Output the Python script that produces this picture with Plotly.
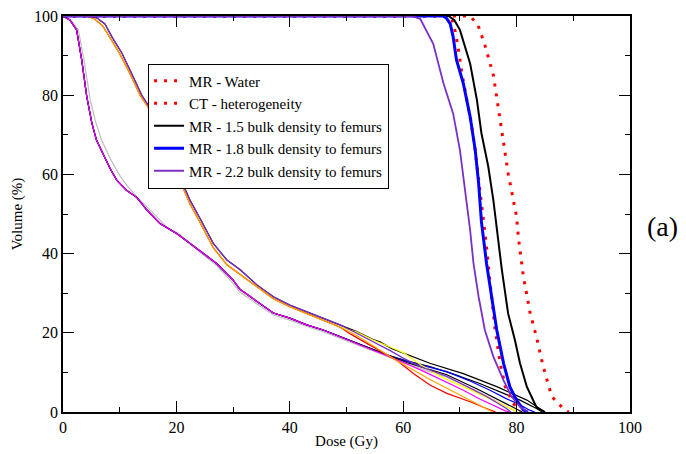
import plotly.graph_objects as go

# ---------------- PTV curves (legend entries) ----------------
WATER_DOSE = [0, 67.8, 68.6, 69.2, 69.8, 70.3, 71.2, 72.0, 72.7, 73.4, 74.1, 74.6, 75.3, 76.2, 77.1, 78.0, 79.4, 80.5]
WATER_VOL = [100, 100, 99, 96, 91, 86, 79, 73, 66, 58, 49, 43, 33, 21, 12.3, 6.4, 2.2, 0]

CT_DOSE = [0, 71.8, 73.2, 74.4, 75.9, 76.8, 77.7, 78.5, 80.0, 80.3, 81.2, 82.4, 83.5, 84.7, 86.2, 88.5, 89.2]
CT_VOL = [100, 100, 97.7, 92.7, 85.1, 76.3, 67, 60.3, 49.3, 44.3, 34.2, 24.9, 19, 11.4, 3.9, 0.5, 0]

MR15_DOSE = [0, 68.0, 69.0, 70.0, 71.8, 73.0, 73.8, 75.0, 75.9, 76.5, 77.4, 78.5, 79.7, 80.6, 81.8, 83.5, 85.0]
MR15_VOL = [100, 100, 99, 96.5, 88, 78.8, 70.4, 62, 53.5, 46, 35.9, 24.9, 18.2, 12.3, 6.4, 1.2, 0]

MR18_DOSE = [0, 67.0, 67.6, 68.3, 68.8, 69.4, 70.6, 71.8, 72.7, 73.3, 73.8, 74.7, 75.6, 76.5, 77.7, 78.8, 80.0, 81.2, 82.0]
MR18_VOL = [100, 100, 99.5, 98, 94.8, 88.9, 83, 74.6, 66.2, 57.8, 48, 37.5, 29.1, 20.7, 12.3, 6.4, 3, 0.5, 0]

MR22_DOSE = [0, 61.5, 63.0, 65.3, 67.1, 68.8, 70.0, 71.2, 71.8, 72.4, 73.3, 74.4, 75.9, 77.7, 79.1, 80.6, 82.0]
MR22_VOL = [100, 100, 99.3, 93, 83, 75.4, 66.2, 53.5, 46, 37.5, 29.1, 20.7, 14, 8, 3.9, 1.3, 0]

# ---------------- Organ B (steep low-dose fall) ----------------
B_HEAD_DOSE = [0, 1.2, 2.4, 3.3, 4.2, 5.1, 5.9, 7.0, 8.3, 9.5, 11.2, 13.0, 14.8, 17.1, 20.1, 23.6, 27.1, 30.0,
               31.2, 34.2, 37.1, 40.0, 43.0, 45.9, 48.9, 51.8, 54.7]
B_HEAD_VOL = [100, 99, 96.5, 88.9, 79.6, 72.9, 68.7, 65.5, 61.5, 58.5, 56, 54.2, 51, 47.6, 45, 41.3, 37.5, 33.3,
              31, 27.9, 25, 23.7, 22, 20.7, 19, 17.3, 15.7]
B_GRAY_HEAD_DOSE = [0, 1.4, 2.7, 3.7, 4.8, 5.8, 6.8, 8.5, 10.1, 11.5, 13.0, 14.5, 16.0, 18.3, 20.5, 23.6, 27.1, 30.0,
                    31.2, 34.2, 37.1, 40.0, 43.0, 45.9, 48.9, 51.8, 54.7]
B_GRAY_HEAD_VOL = [100, 99, 96.5, 88.9, 78.8, 73, 68.7, 63.5, 59.5, 56.8, 54.4, 52.3, 50.1, 46.7, 45, 41, 37, 32.5,
                   30.3, 27.3, 24.5, 23.2, 21.6, 20.3, 18.7, 17, 15.4]

B_BLACK_TAIL_DOSE = [57.7, 60.6, 64.7, 69.0, 73.5, 77.0, 80.6, 83.5, 84.5]
B_BLACK_TAIL_VOL = [14.2, 12.9, 11.5, 9.5, 7.2, 5.2, 3, 0.9, 0]
B_BLUE_TAIL_DOSE = [57.7, 60.6, 64.0, 67.7, 71.5, 75.3, 78.0, 80.6, 82.4, 83.2]
B_BLUE_TAIL_VOL = [14.1, 12.8, 11.5, 10.2, 8.0, 5.5, 3.5, 1.8, 0.4, 0]
B_BLACK2_TAIL_DOSE = [57.7, 60.6, 64.0, 67.7, 73.5, 76.5, 79.4, 81.0]
B_BLACK2_TAIL_VOL = [14.0, 12.5, 11.0, 9.4, 5.5, 3.3, 1.3, 0]
B_MAGENTA_TAIL_DOSE = [57.7, 60.6, 64.0, 67.0, 70.6, 73.5, 76.5, 78.0, 78.8]
B_MAGENTA_TAIL_VOL = [13.9, 12.2, 10.0, 8.0, 5.5, 3.3, 1.3, 0.3, 0]
B_GRAY_TAIL_DOSE = [57.7, 60.6, 64.0, 67.7, 73.5, 77.5, 80.0]
B_GRAY_TAIL_VOL = [13.7, 12.1, 10.5, 8.8, 5.0, 1.8, 0]

# ---------------- Organ C (shoulder then fall) ----------------
C_HEAD_DOSE = [0, 4.5, 6.0, 7.4, 8.6, 10.4, 12.1, 13.9, 15.0, 17.5, 20.3, 22.4, 24.2, 26.5, 28.9, 31.2, 34.2,
               37.1, 40.0, 43.0, 45.9, 48.9]
C_HEAD_VOL = [100, 100, 99.5, 98, 94.8, 90.6, 85.5, 80, 77.5, 69, 60.3, 53.5, 48.8, 42.6, 38.4, 36, 32.1,
              29.1, 27, 25.3, 23.7, 22]
C_ORANGE_HEAD_DOSE = [0, 4.0, 5.5, 7.0, 8.3, 10.0, 11.8, 13.6, 15.0, 17.5, 20.3, 22.4, 24.2, 26.5, 28.9, 31.2,
                      34.2, 37.1, 40.0, 43.0, 45.9, 48.9]
C_ORANGE_HEAD_VOL = [100, 100, 99.3, 97.5, 94.5, 90.5, 85.5, 80, 77, 68.5, 59.5, 52.5, 47.8, 41.5, 37.2, 34.8,
                     31.5, 28.6, 26.6, 24.9, 23.2, 21.4]

C_BLACK_TAIL_DOSE = [51.8, 54.7, 55.9, 58.0, 61.2, 64.7, 70.6, 76.5, 81.8, 84.1, 85.0]
C_BLACK_TAIL_VOL = [20.3, 18.3, 17.7, 16.0, 14.2, 12.3, 9.7, 6.4, 3.0, 0.9, 0]
C_YELLOW_TAIL_DOSE = [51.8, 54.7, 57.7, 60.0, 63.0, 66.5, 70.6, 76.5, 79.4, 80.2]
C_YELLOW_TAIL_VOL = [20.2, 18.2, 16.4, 15.0, 12.0, 9.0, 6.4, 2.6, 0.6, 0]
C_PURPLE_TAIL_DOSE = [51.8, 54.7, 57.7, 60.0, 63.0, 67.7, 71.0, 74.7, 78.2, 79.0]
C_PURPLE_TAIL_VOL = [19.9, 17.8, 15.5, 13.6, 11.5, 9.0, 6.5, 3.9, 0.9, 0]
C_ORANGE_TAIL_DOSE = [51.8, 55.9, 58.8, 61.8, 64.7, 67.7, 70.6, 73.5, 75.8]
C_ORANGE_TAIL_VOL = [19.3, 15.5, 13.0, 10.6, 8.2, 6.0, 3.8, 1.8, 0]
C_RED_TAIL_DOSE = [50.8, 53.0, 55.0, 58.8, 61.8, 64.7, 67.7, 71.8, 74.7, 76.3]
C_RED_TAIL_VOL = [19.6, 17.8, 16.0, 13.1, 9.7, 6.8, 4.7, 2.6, 0.9, 0]

LEGEND_NAMES = ["MR - Water", "CT - heterogeneity", "MR - 1.5 bulk density to femurs",
                "MR - 1.8 bulk density to femurs", "MR - 2.2 bulk density to femurs"]

X_TICKS = [0, 20, 40, 60, 80, 100]
Y_TICKS = [0, 20, 40, 60, 80, 100]

FONT = "Liberation Serif, Times New Roman, DejaVu Serif, serif"
PURPLE = "#7b2fc9"

fig = go.Figure()


def organ(x, y, color, width=1.2):
    fig.add_trace(go.Scatter(x=x, y=y, mode="lines", showlegend=False, hoverinfo="skip",
                             line=dict(color=color, width=width)))


# Organ B
organ(B_GRAY_HEAD_DOSE + B_GRAY_TAIL_DOSE, B_GRAY_HEAD_VOL + B_GRAY_TAIL_VOL, "#bebebe")
organ(B_HEAD_DOSE + B_BLACK_TAIL_DOSE, B_HEAD_VOL + B_BLACK_TAIL_VOL, "#000000")
organ(B_HEAD_DOSE + B_BLUE_TAIL_DOSE, B_HEAD_VOL + B_BLUE_TAIL_VOL, "#0000ff")
organ(B_HEAD_DOSE + B_BLACK2_TAIL_DOSE, B_HEAD_VOL + B_BLACK2_TAIL_VOL, "#000000")
organ(B_HEAD_DOSE + B_MAGENTA_TAIL_DOSE, B_HEAD_VOL + B_MAGENTA_TAIL_VOL, "#ff00ff")

# Organ C
organ(C_HEAD_DOSE + C_BLACK_TAIL_DOSE, C_HEAD_VOL + C_BLACK_TAIL_VOL, "#000000")
organ(C_ORANGE_HEAD_DOSE + C_YELLOW_TAIL_DOSE, C_ORANGE_HEAD_VOL + C_YELLOW_TAIL_VOL, "#ffff00")
organ(C_ORANGE_HEAD_DOSE + C_RED_TAIL_DOSE, C_ORANGE_HEAD_VOL + C_RED_TAIL_VOL, "#ff0000")
organ(C_ORANGE_HEAD_DOSE + C_ORANGE_TAIL_DOSE, C_ORANGE_HEAD_VOL + C_ORANGE_TAIL_VOL, "#ffa500")
organ(C_HEAD_DOSE + C_PURPLE_TAIL_DOSE, C_HEAD_VOL + C_PURPLE_TAIL_VOL, PURPLE)

# PTV curves with legend
DOT = "3px,7px"
fig.add_trace(go.Scatter(x=WATER_DOSE, y=WATER_VOL, mode="lines", name=LEGEND_NAMES[0],
                         line=dict(color="#ff0000", width=3, dash=DOT)))
fig.add_trace(go.Scatter(x=CT_DOSE, y=CT_VOL, mode="lines", name=LEGEND_NAMES[1],
                         line=dict(color="#ff0000", width=3, dash=DOT)))
fig.add_trace(go.Scatter(x=MR15_DOSE, y=MR15_VOL, mode="lines", name=LEGEND_NAMES[2],
                         line=dict(color="#000000", width=2)))
fig.add_trace(go.Scatter(x=MR18_DOSE, y=MR18_VOL, mode="lines", name=LEGEND_NAMES[3],
                         line=dict(color="#0000ff", width=3)))
fig.add_trace(go.Scatter(x=MR22_DOSE, y=MR22_VOL, mode="lines", name=LEGEND_NAMES[4],
                         line=dict(color=PURPLE, width=1.8)))

axis_common = dict(
    range=[0, 100], showgrid=False, zeroline=False, automargin=False,
    showline=True, linecolor="black", linewidth=1.5, mirror="ticks",
    ticks="inside", ticklen=11, tickwidth=1.2, tickcolor="black",
    tickfont=dict(family=FONT, size=16, color="black"),
    minor=dict(ticks="inside", ticklen=5, tickwidth=1.2, tickcolor="black", dtick=10),
)

fig.update_xaxes(**axis_common, tickvals=X_TICKS, ticktext=[str(v) for v in X_TICKS],
                 title=dict(text="Dose (Gy)", font=dict(family=FONT, size=15, color="black"), standoff=1))
fig.update_yaxes(**axis_common, tickvals=Y_TICKS, ticktext=[str(v) for v in Y_TICKS],
                 title=dict(text="Volume (%)", font=dict(family=FONT, size=15, color="black"), standoff=8))

fig.add_annotation(text="(a)", xref="paper", yref="paper", x=1.027, y=0.468, xanchor="left", yanchor="middle",
                   showarrow=False, font=dict(family=FONT, size=28, color="black"))

fig.update_layout(
    width=686, height=454,
    margin=dict(l=63, r=56, t=16, b=42, autoexpand=False),
    paper_bgcolor="white", plot_bgcolor="white",
    font=dict(family=FONT, color="black"),
    legend=dict(x=0.15, y=0.88, xanchor="left", yanchor="top",
                bgcolor="white", bordercolor="black", borderwidth=1,
                font=dict(family=FONT, size=15, color="black"),
                tracegroupgap=0, itemwidth=30),
)

fig.write_html("out.html", config={"displayModeBar": False},
               post_script="document.body.style.margin='0px';document.body.style.padding='0px';")
